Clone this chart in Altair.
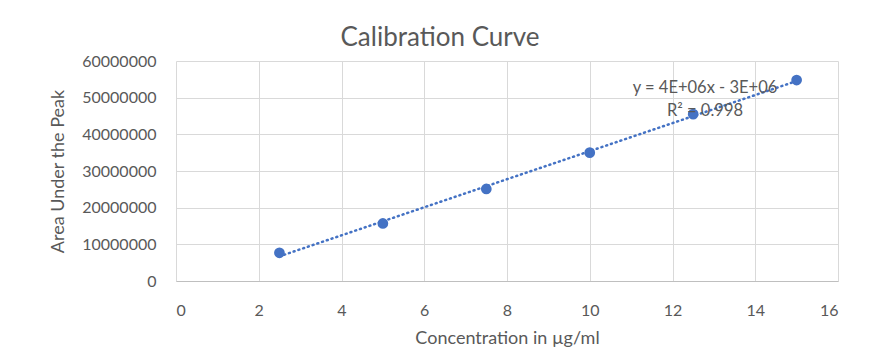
import altair as alt
import pandas as pd

concentration = [2.5, 5, 7.5, 10, 12.5, 15]
area = [7700000, 15700000, 25100000, 35000000, 45500000, 54800000]
x_ticks = [0, 2, 4, 6, 8, 10, 12, 14, 16]
y_ticks = [0, 10000000, 20000000, 30000000, 40000000, 50000000, 60000000]
eq_lines = ["y = 4E+06x - 3E+06", "R² = 0.998"]

df = pd.DataFrame({"conc": concentration, "area": area})

FONT = "Lato"
GRAY = "#595959"
BLUE = "#4472C4"

xenc = alt.X("conc:Q", scale=alt.Scale(domain=[0, 16], nice=False),
             axis=alt.Axis(values=x_ticks, title="Concentration in µg/ml", grid=True,
                           gridColor="#d9d9d9", domainColor="#bfbfbf", ticks=False,
                           labelPadding=21, titlePadding=11, labelFontSize=16,
                           titleFontSize=18, labelColor=GRAY, titleColor=GRAY,
                           titleFontWeight="normal", labelFont=FONT, titleFont=FONT,
                           format="d"))
yenc = alt.Y("area:Q", scale=alt.Scale(domain=[0, 60000000], nice=False),
             axis=alt.Axis(values=y_ticks, title="Area Under the Peak", grid=True,
                           gridColor="#d9d9d9", domain=False, ticks=False,
                           labelPadding=20, titlePadding=14, labelFontSize=16,
                           titleFontSize=18, labelColor=GRAY, titleColor=GRAY,
                           titleFontWeight="normal", labelFont=FONT, titleFont=FONT,
                           format="d"))

base = alt.Chart(df)

trend = base.transform_regression("conc", "area").mark_line(
    color=BLUE, strokeWidth=2.5, strokeDash=[1, 4], strokeCap="round"
).encode(x=xenc, y=yenc)

points = base.mark_circle(color=BLUE, size=115, opacity=1).encode(x=xenc, y=yenc)

eq1 = alt.Chart(pd.DataFrame({"t": [eq_lines[0]]})).mark_text(
    font=FONT, fontSize=16.5, color=GRAY, align="center", baseline="middle"
).encode(text="t:N", x=alt.value(529), y=alt.value(27))
eq2 = alt.Chart(pd.DataFrame({"t": [eq_lines[1]]})).mark_text(
    font=FONT, fontSize=16.5, color=GRAY, align="center", baseline="middle"
).encode(text="t:N", x=alt.value(529), y=alt.value(50))

chart = alt.layer(trend, points, eq1, eq2).properties(
    width=662, height=220,
    title=alt.TitleParams("Calibration Curve", font=FONT, fontSize=26,
                          fontWeight="normal", color=GRAY, offset=2, dx=-67,
                          anchor="middle"),
    autosize=alt.AutoSizeParams(type="none"),
    padding={"left": 168, "top": 53, "right": 32, "bottom": 80},
).configure_view(stroke=None)

chart.save("out.html", embed_options={"renderer": "svg", "actions": False})
